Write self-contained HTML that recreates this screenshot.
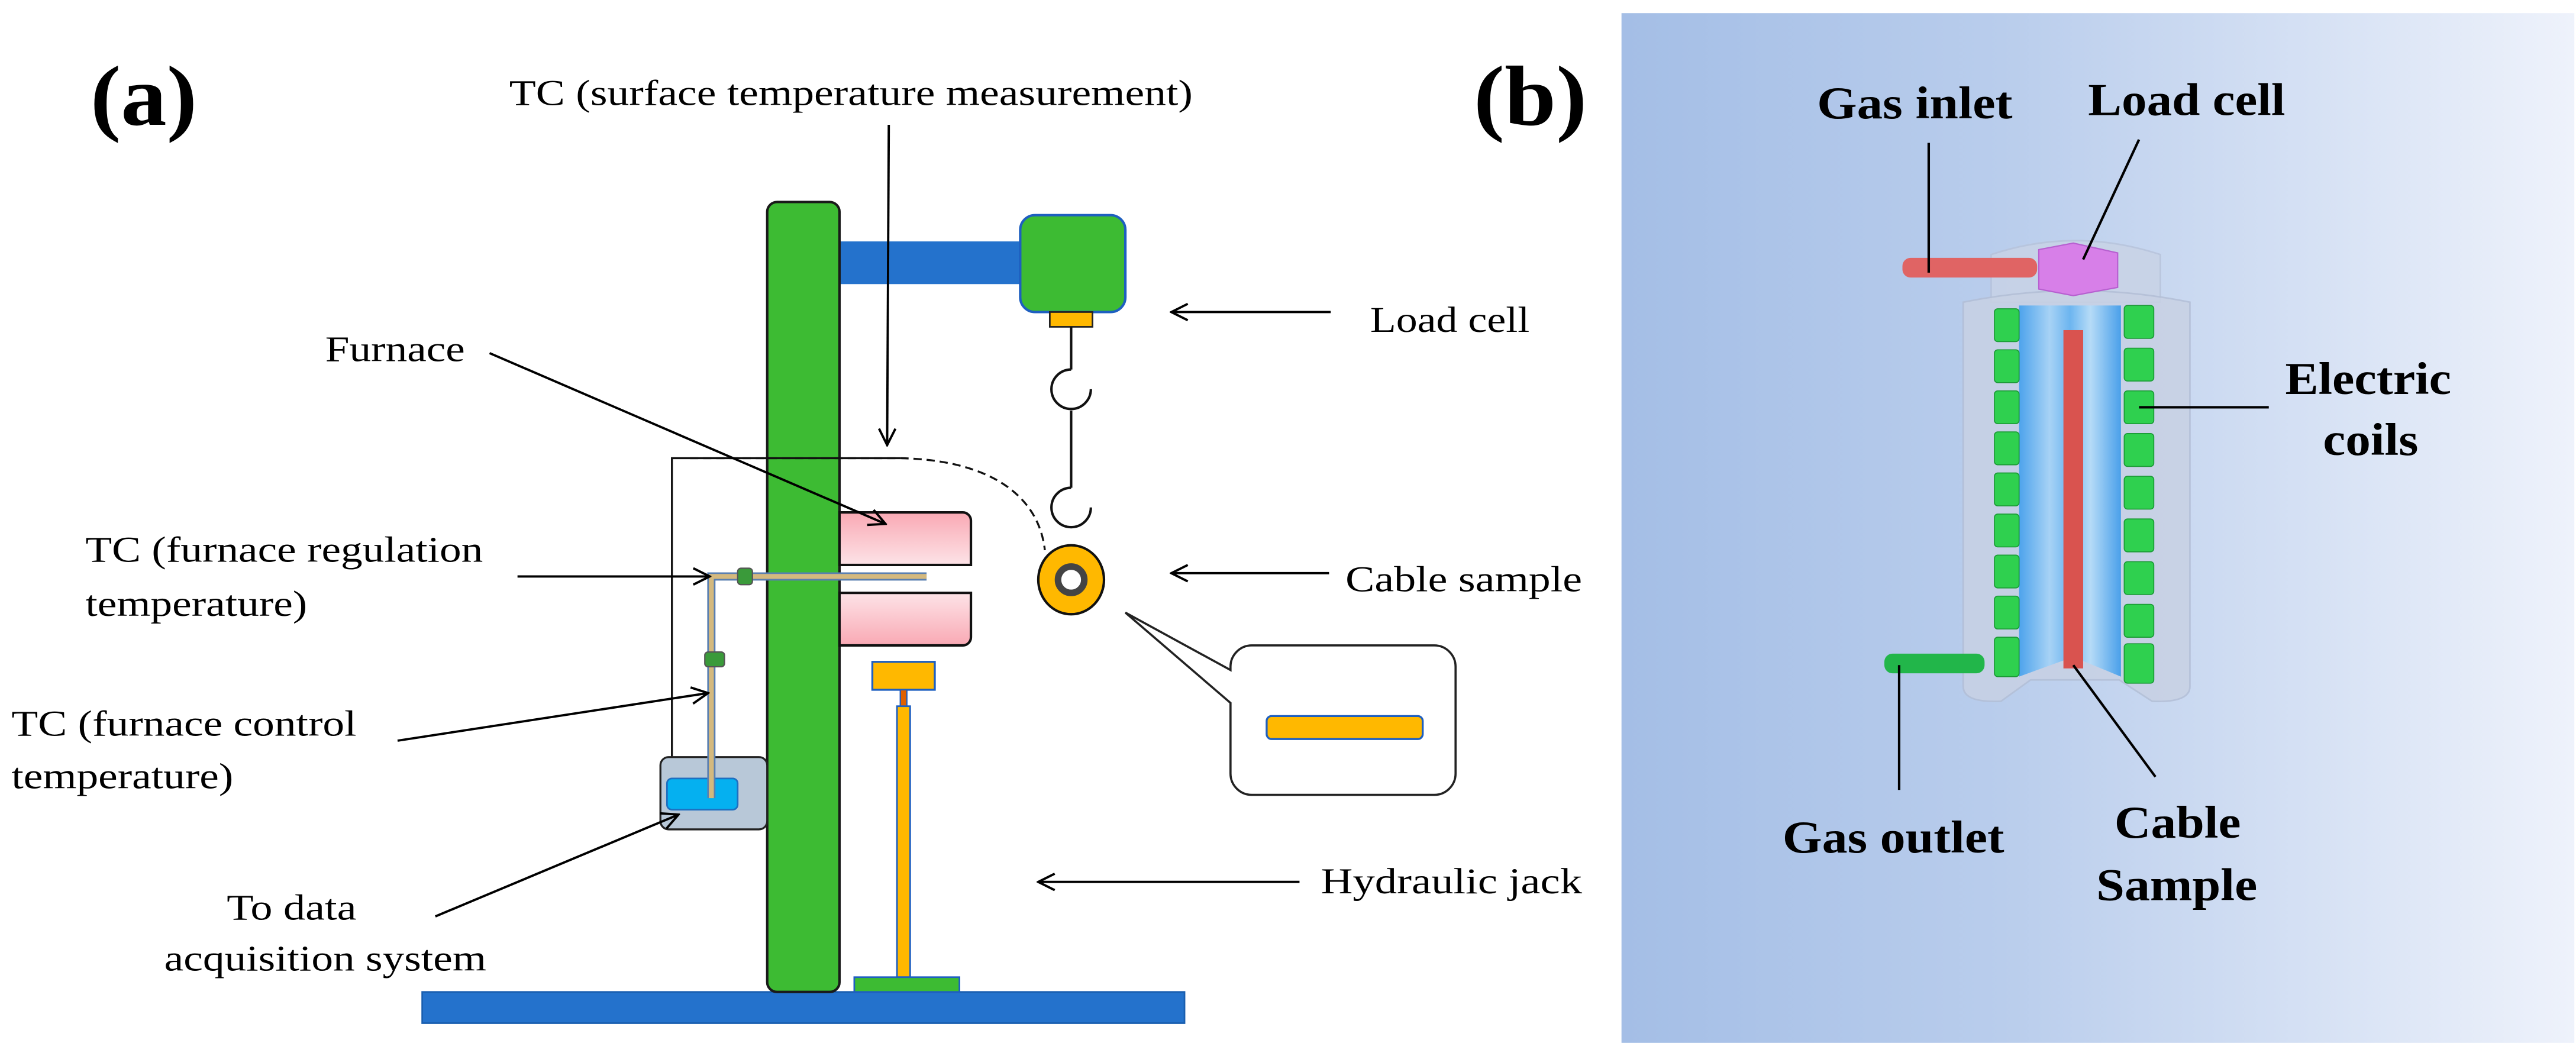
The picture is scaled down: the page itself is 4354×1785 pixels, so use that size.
<!DOCTYPE html>
<html><head><meta charset="utf-8"><style>html,body{margin:0;padding:0;background:#fff}svg{display:block}text{font-family:"Liberation Serif","Times New Roman","DejaVu Serif",serif}</style></head>
<body>
<svg width="4354" height="1785" viewBox="0 0 1568 643" preserveAspectRatio="none" xmlns="http://www.w3.org/2000/svg">
<defs>
<marker id="ar" viewBox="0 0 12 12" refX="11" refY="6" markerWidth="12" markerHeight="12" markerUnits="userSpaceOnUse" orient="auto"><path d="M1,1 L11,6 L1,11" fill="none" stroke="#000" stroke-width="1.4"/></marker>
<linearGradient id="pk1" x1="0" y1="0" x2="0" y2="1"><stop offset="0" stop-color="#f9a9b4"/><stop offset="1" stop-color="#fde3e7"/></linearGradient>
<linearGradient id="pk2" x1="0" y1="0" x2="0" y2="1"><stop offset="0" stop-color="#fde3e7"/><stop offset="1" stop-color="#f9a9b4"/></linearGradient>
<linearGradient id="bg" x1="0" y1="0" x2="1" y2="0"><stop offset="0" stop-color="#a4bee6"/><stop offset="0.4" stop-color="#b9cdec"/><stop offset="1" stop-color="#eef2fb"/></linearGradient>
<linearGradient id="inn" x1="0" y1="0" x2="1" y2="0"><stop offset="0" stop-color="#4da3ec"/><stop offset="0.3" stop-color="#a7d2f5"/><stop offset="0.5" stop-color="#6cb5f0"/><stop offset="0.7" stop-color="#b6dbf7"/><stop offset="1" stop-color="#4aa0ea"/></linearGradient>
</defs>
<g fill="#000">
<text x="55" y="76" font-size="52" font-weight="bold" textLength="65" lengthAdjust="spacingAndGlyphs">(a)</text>
<text x="897" y="76" font-size="52" font-weight="bold" textLength="69" lengthAdjust="spacingAndGlyphs">(b)</text>
<g font-size="22">
<text x="310" y="64" textLength="416" lengthAdjust="spacingAndGlyphs">TC (surface temperature measurement)</text>
<text x="834" y="202" textLength="97" lengthAdjust="spacingAndGlyphs">Load cell</text>
<text x="198" y="220" textLength="85" lengthAdjust="spacingAndGlyphs">Furnace</text>
<text x="52" y="342" textLength="242" lengthAdjust="spacingAndGlyphs">TC (furnace regulation</text>
<text x="52" y="375" textLength="135" lengthAdjust="spacingAndGlyphs">temperature)</text>
<text x="819" y="360" textLength="144" lengthAdjust="spacingAndGlyphs">Cable sample</text>
<text x="7" y="448" textLength="210" lengthAdjust="spacingAndGlyphs">TC (furnace control</text>
<text x="7" y="480" textLength="135" lengthAdjust="spacingAndGlyphs">temperature)</text>
<text x="138" y="560" textLength="79" lengthAdjust="spacingAndGlyphs">To data</text>
<text x="100" y="591" textLength="196" lengthAdjust="spacingAndGlyphs">acquisition system</text>
<text x="804" y="544" textLength="159" lengthAdjust="spacingAndGlyphs">Hydraulic jack</text>
</g>
</g>
<rect x="257" y="604" width="464" height="19" fill="#2472cc" stroke="#1a5fb0" stroke-width="1"/>
<rect x="511" y="147" width="112" height="26" fill="#2472cc"/>
<rect x="467" y="123" width="44" height="481" rx="6" fill="#3dbb33" stroke="#1a1a1a" stroke-width="1.5"/>
<rect x="621" y="131" width="64" height="59" rx="9" fill="#3dbb33" stroke="#1e5fc0" stroke-width="1.5"/>
<rect x="639" y="190" width="26" height="9" fill="#ffb800" stroke="#222" stroke-width="1"/>
<g fill="none" stroke="#111" stroke-width="1.5">
<path d="M652,199 V225"/>
<path d="M652,225 A12,12 0 1 0 664,237"/>
<path d="M652,250 V297"/>
<path d="M652,297 A12,12 0 1 0 664,309"/>
</g>
<ellipse cx="652" cy="353" rx="20" ry="21" fill="#ffb800" stroke="#111" stroke-width="1.5"/>
<circle cx="652" cy="353" r="8" fill="#fff" stroke="#444" stroke-width="4"/>
<path d="M511,312 H586 a5,5 0 0 1 5,5 V344 H511 Z" fill="url(#pk1)" stroke="#111" stroke-width="1.5"/>
<path d="M511,361 H591 V388 a5,5 0 0 1 -5,5 H511 Z" fill="url(#pk2)" stroke="#111" stroke-width="1.5"/>
<path d="M409,461 V279 H548" fill="none" stroke="#111" stroke-width="1.2"/>
<path d="M420,279 H548 C600,280 632,300 636,335" fill="none" stroke="#111" stroke-width="1.2" stroke-dasharray="5,3"/>
<rect x="402" y="461" width="65" height="44" rx="5" fill="#b8c8d8" stroke="#222" stroke-width="1.2"/>
<rect x="406" y="474" width="43" height="19" rx="3" fill="#05b0f0" stroke="#1e6fc0" stroke-width="1"/>
<path d="M433,486 V351 H564" fill="none" stroke="#5a7fb0" stroke-width="5"/>
<path d="M433,486 V351 H564" fill="none" stroke="#d4b97e" stroke-width="3"/>
<rect x="449" y="346" width="9" height="10" rx="2" fill="#3a9a3a" stroke="#555" stroke-width="0.8"/>
<rect x="429" y="397" width="12" height="9" rx="2" fill="#3a9a3a" stroke="#555" stroke-width="0.8"/>
<rect x="531" y="403" width="38" height="17" fill="#ffb800" stroke="#1e5fc0" stroke-width="1.2"/>
<rect x="548" y="420" width="4" height="10" fill="#e06000" stroke="#1e5fc0" stroke-width="0.8"/>
<rect x="546" y="430" width="8" height="165" fill="#ffb800" stroke="#1e5fc0" stroke-width="1"/>
<rect x="520" y="595" width="64" height="9" fill="#3dbb33" stroke="#1e5fc0" stroke-width="1"/>
<path d="M762,393 H873 a13,13 0 0 1 13,13 V471 a13,13 0 0 1 -13,13 H762 a13,13 0 0 1 -13,-13 V428 L685,373 L749,408 V406 a13,13 0 0 1 13,-13 Z" fill="#fff" stroke="#222" stroke-width="1.3"/>
<rect x="771" y="436" width="95" height="14" rx="3" fill="#ffb800" stroke="#1e5fc0" stroke-width="1.2"/>
<g stroke="#000" stroke-width="1.4" fill="none" marker-end="url(#ar)">
<line x1="541" y1="76" x2="540" y2="271"/>
<line x1="810" y1="190" x2="713" y2="190"/>
<line x1="298" y1="215" x2="539" y2="319"/>
<line x1="315" y1="351" x2="432" y2="351"/>
<line x1="809" y1="349" x2="713" y2="349"/>
<line x1="242" y1="451" x2="431" y2="422"/>
<line x1="265" y1="558" x2="413" y2="496"/>
<line x1="791" y1="537" x2="632" y2="537"/>
</g>
<rect x="987" y="8" width="580" height="627" fill="url(#bg)"/>
<path d="M1212,155 Q1263,138 1315,155 V184 H1212 Z" fill="#c9d3e6" opacity="0.8" stroke="#b7c3da" stroke-width="1"/>
<path d="M1195,184 Q1264,170 1333,184 V418 Q1333,428 1310,427 L1290,414 H1236 L1218,427 Q1195,428 1195,418 Z" fill="#c8d1e4" opacity="0.85" stroke="#b3bfd6" stroke-width="1"/>
<path d="M1229,186 H1291 V412 L1262,400 L1229,412 Z" fill="url(#inn)"/>
<g fill="#2fd04f" stroke="#1a9a35" stroke-width="0.6">
<rect x="1214" y="188" width="15" height="20" rx="2"/><rect x="1214" y="213" width="15" height="20" rx="2"/><rect x="1214" y="238" width="15" height="20" rx="2"/><rect x="1214" y="263" width="15" height="20" rx="2"/><rect x="1214" y="288" width="15" height="20" rx="2"/><rect x="1214" y="313" width="15" height="20" rx="2"/><rect x="1214" y="338" width="15" height="20" rx="2"/><rect x="1214" y="363" width="15" height="20" rx="2"/><rect x="1214" y="388" width="15" height="24" rx="2"/>
<rect x="1293" y="186" width="18" height="20" rx="2"/><rect x="1293" y="212" width="18" height="20" rx="2"/><rect x="1293" y="238" width="18" height="20" rx="2"/><rect x="1293" y="264" width="18" height="20" rx="2"/><rect x="1293" y="290" width="18" height="20" rx="2"/><rect x="1293" y="316" width="18" height="20" rx="2"/><rect x="1293" y="342" width="18" height="20" rx="2"/><rect x="1293" y="368" width="18" height="20" rx="2"/><rect x="1293" y="392" width="18" height="24" rx="2"/>
</g>
<rect x="1256" y="201" width="12" height="206" fill="#d9534f"/>
<rect x="1158" y="157" width="82" height="12" rx="5" fill="#e06464"/>
<path d="M1241,152 L1262,148 L1289,154 V175 L1262,180 L1241,176 Z" fill="#d77fe8" stroke="#b760d0" stroke-width="0.8"/>
<rect x="1147" y="398" width="61" height="12" rx="5" fill="#22b64a"/>
<g stroke="#000" stroke-width="1.5">
<line x1="1174" y1="87" x2="1174" y2="166"/>
<line x1="1302" y1="85" x2="1268" y2="158"/>
<line x1="1302" y1="248" x2="1381" y2="248"/>
<line x1="1156" y1="405" x2="1156" y2="481"/>
<line x1="1262" y1="405" x2="1312" y2="473"/>
</g>
<g font-weight="bold" font-size="28" fill="#000">
<text x="1106" y="72" textLength="119" lengthAdjust="spacingAndGlyphs">Gas inlet</text>
<text x="1271" y="70" textLength="120" lengthAdjust="spacingAndGlyphs">Load cell</text>
<text x="1391" y="240" textLength="101" lengthAdjust="spacingAndGlyphs">Electric</text>
<text x="1414" y="277" textLength="58" lengthAdjust="spacingAndGlyphs">coils</text>
<text x="1085" y="519" textLength="135" lengthAdjust="spacingAndGlyphs">Gas outlet</text>
<text x="1287" y="510" textLength="77" lengthAdjust="spacingAndGlyphs">Cable</text>
<text x="1276" y="548" textLength="98" lengthAdjust="spacingAndGlyphs">Sample</text>
</g>
</svg>
</body></html>
